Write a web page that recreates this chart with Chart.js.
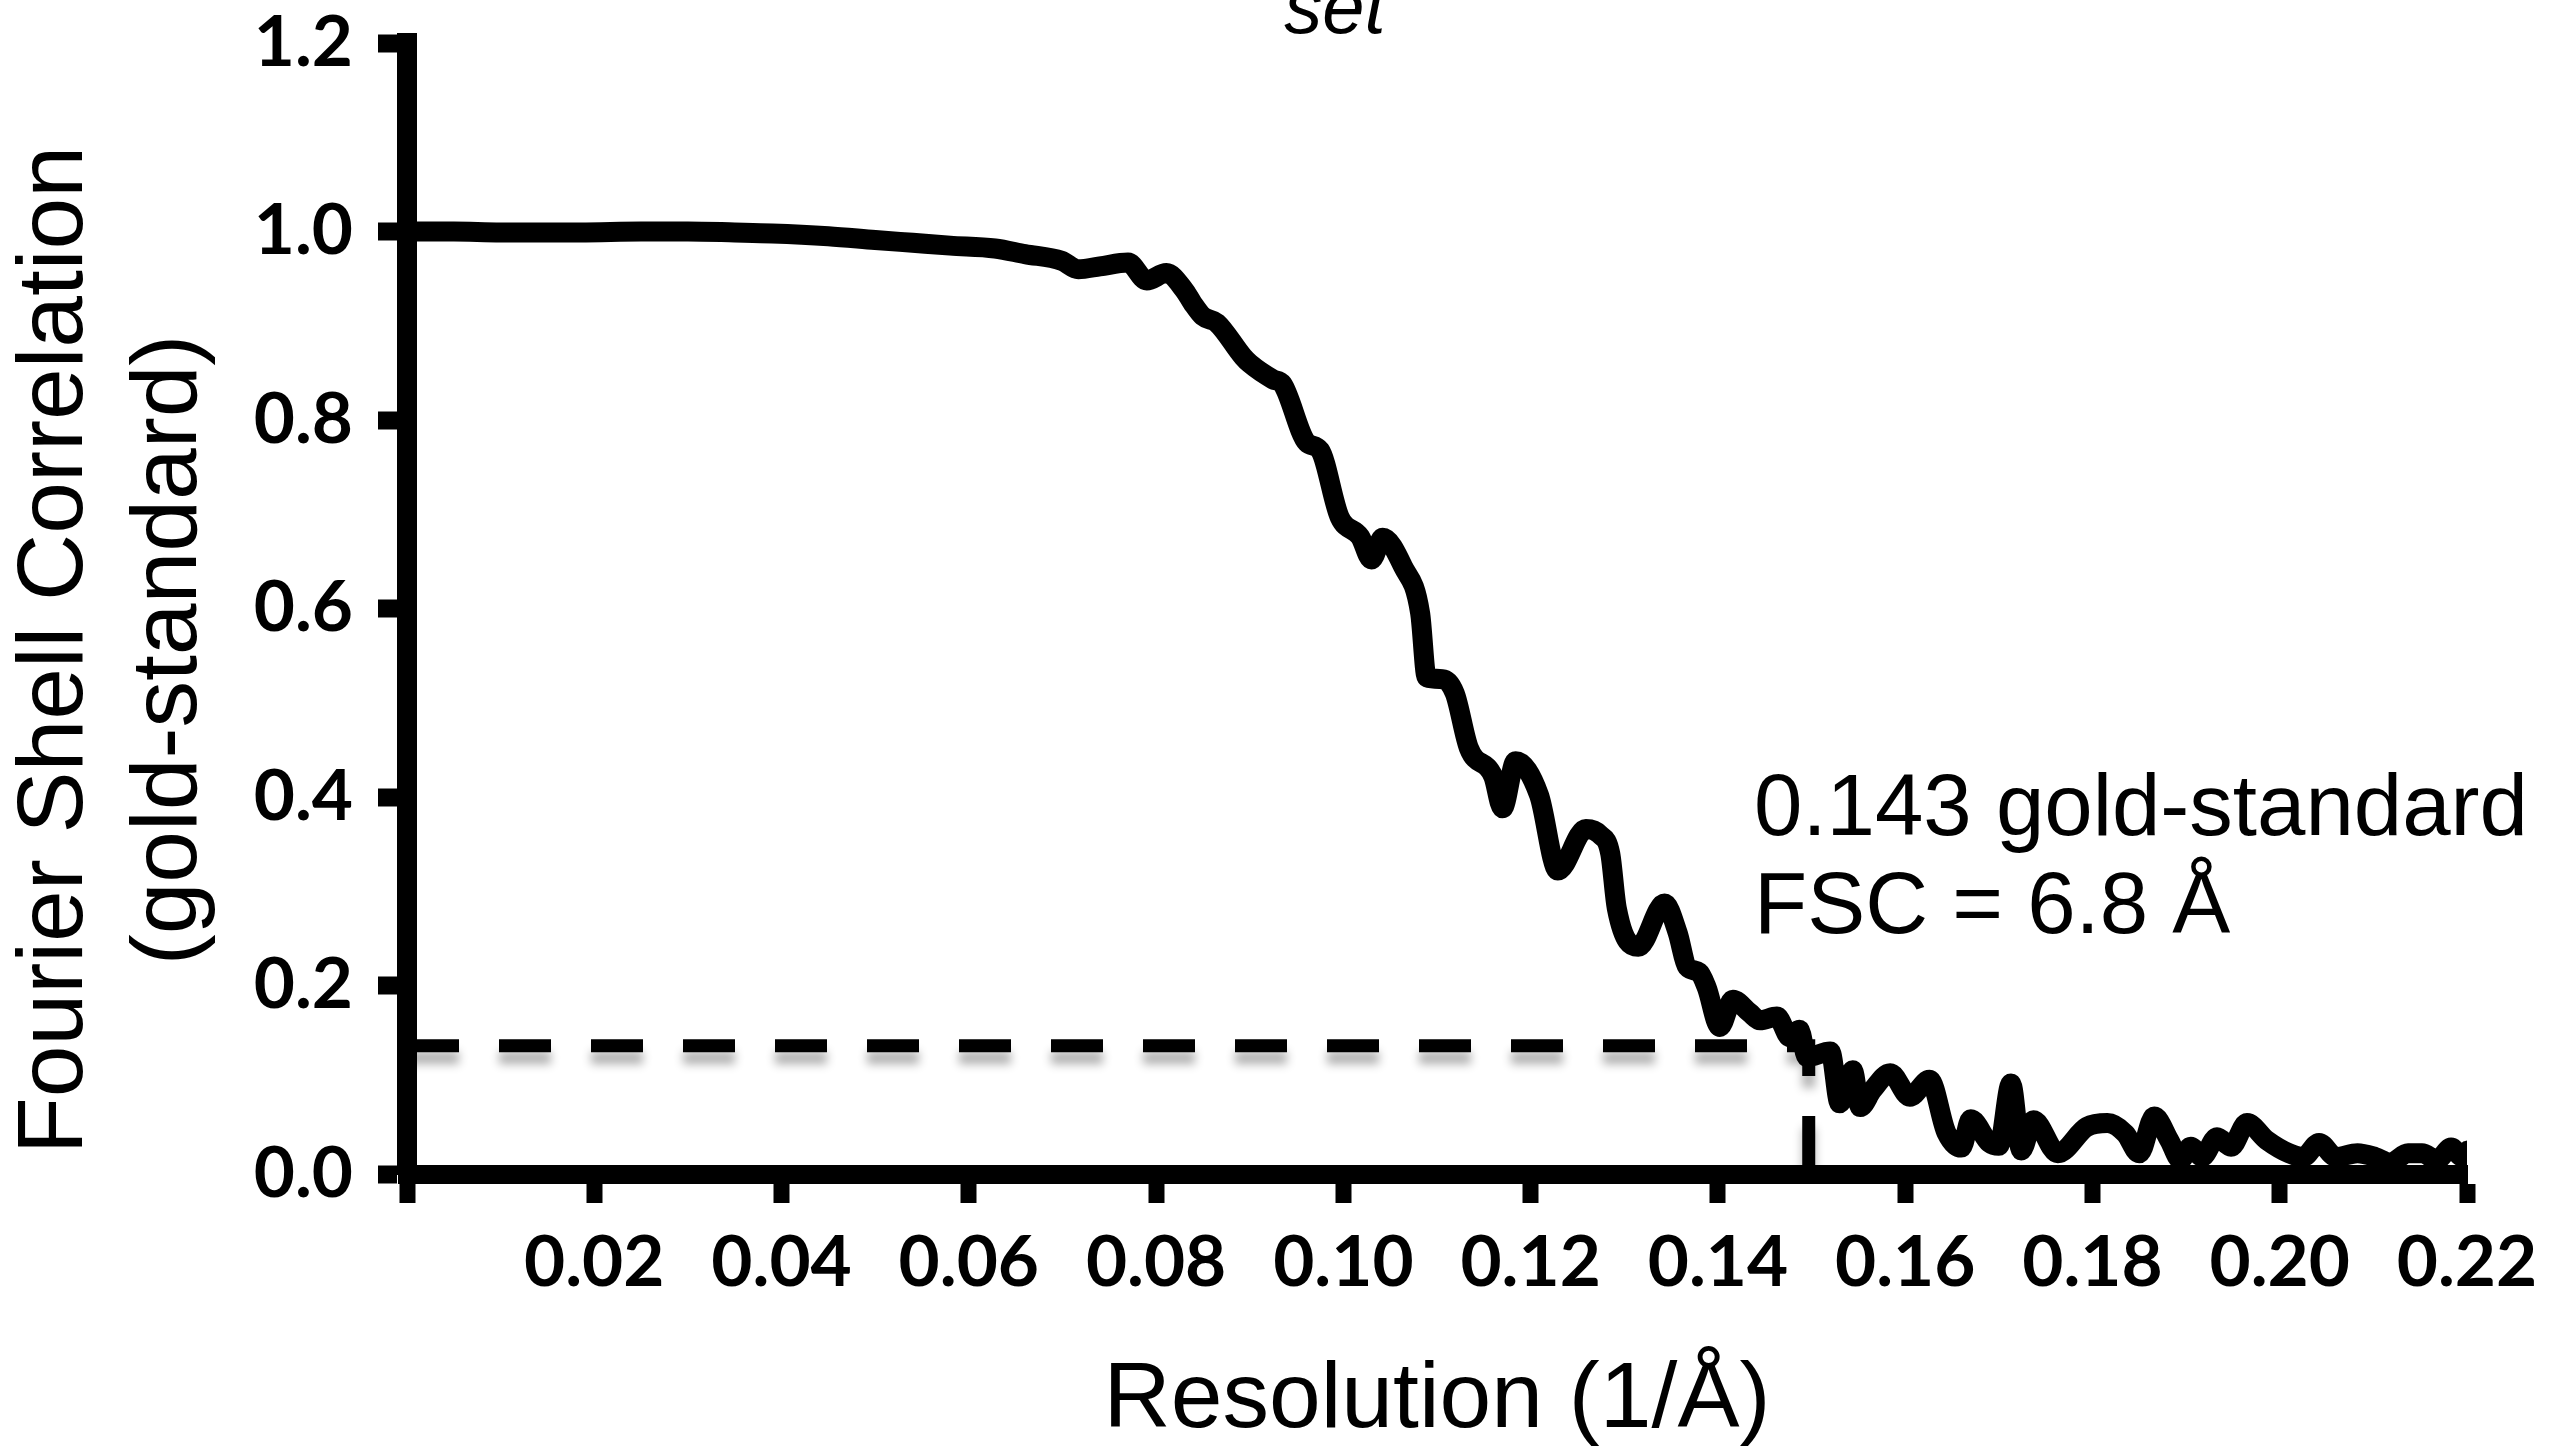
<!DOCTYPE html>
<html>
<head>
<meta charset="utf-8">
<script src="https://cdn.jsdelivr.net/npm/chart.js@4.4.1/dist/chart.umd.min.js"></script>
<style>
  html, body { margin: 0; padding: 0; background: #fff; }
  #wrap { width: 2566px; height: 1447px; position: relative; }
</style>
</head>
<body>
<div id="wrap"><canvas id="fscChart"></canvas></div>
<script>
// --- DATA ---
const resolution = [
  0, 0.005, 0.010, 0.015, 0.0185, 0.025, 0.030, 0.035, 0.039, 0.045,
  0.050, 0.054, 0.058, 0.0628, 0.066, 0.0699, 0.0717, 0.074, 0.077, 0.0790,
  0.0811, 0.083, 0.0839, 0.085, 0.0865, 0.0893, 0.090, 0.0925, 0.0935, 0.0961,
  0.0975, 0.0996, 0.1018, 0.1030, 0.1042, 0.1064, 0.1082, 0.1089, 0.1106, 0.1119,
  0.1134, 0.1160, 0.1170, 0.1184, 0.1209, 0.1229, 0.1259, 0.1274, 0.1285, 0.1292,
  0.1315, 0.1343, 0.1357, 0.1367, 0.1380, 0.1388, 0.1402, 0.1416, 0.1434, 0.1445,
  0.1463, 0.1477, 0.1487, 0.1495, 0.1520, 0.1530, 0.1544, 0.1552, 0.1565, 0.1584,
  0.1605, 0.1626, 0.1644, 0.1660, 0.1670, 0.1690, 0.1700, 0.1713, 0.1724, 0.1737,
  0.1763, 0.1794, 0.1816, 0.1835, 0.1850, 0.1866, 0.1882, 0.1894, 0.1905, 0.1917,
  0.1933, 0.1948, 0.1965, 0.1986, 0.2010, 0.2025, 0.2042, 0.2060, 0.2083, 0.2102,
  0.2118, 0.2137, 0.2152, 0.2168, 0.2183, 0.2195, 0.2201
];
const fsc = [
  1.000, 1.000, 0.999, 0.999, 0.999, 1.000, 1.000, 0.999, 0.998, 0.995,
  0.991, 0.988, 0.985, 0.982, 0.976, 0.969, 0.960, 0.963, 0.967, 0.948,
  0.956, 0.938, 0.924, 0.910, 0.903, 0.867, 0.860, 0.843, 0.838, 0.776,
  0.768, 0.697, 0.676, 0.652, 0.675, 0.644, 0.595, 0.527, 0.525, 0.510,
  0.452, 0.422, 0.388, 0.438, 0.402, 0.322, 0.366, 0.360, 0.340, 0.282,
  0.241, 0.287, 0.256, 0.220, 0.214, 0.198, 0.156, 0.185, 0.171, 0.163,
  0.167, 0.145, 0.153, 0.124, 0.130, 0.075, 0.110, 0.071, 0.089, 0.107,
  0.082, 0.100, 0.044, 0.028, 0.058, 0.033, 0.030, 0.096, 0.025, 0.057,
  0.022, 0.050, 0.054, 0.043, 0.022, 0.061, 0.036, 0.015, 0.029, 0.018,
  0.039, 0.029, 0.054, 0.036, 0.022, 0.018, 0.033, 0.018, 0.022, 0.018,
  0.012, 0.022, 0.022, 0.015, 0.028, 0.018, 0.025
];

// 0.143 criterion guide (horizontal to the curve, then down to the axis)
const thresholdRes = [0, 0.1497, 0.1497];
const thresholdFsc = [0.136, 0.136, 0];

// axis ranges / tick steps
const xRange = [0, 0.22];
const xStep = 0.02;
const yRange = [0, 1.2];
const yStep = 0.2;

const titleText = 'set';
const xTitle = 'Resolution (1/\u00C5)';
const yTitle = ['Fourier Shell Correlation', '(gold-standard)'];
const noteLines = ['0.143 gold-standard', 'FSC = 6.8 \u00C5'];

const curvePoints = resolution.map((r, i) => ({ x: r, y: fsc[i] }));
const guidePoints = thresholdRes.map((r, i) => ({ x: r, y: thresholdFsc[i] }));

// soft grey shadow under the dashed guide
const guideShadow = {
  id: 'guideShadow',
  beforeDatasetDraw(chart, args) {
    if (args.index !== 1) return;
    const ctx = chart.ctx;
    ctx.save();
    ctx.shadowColor = 'rgba(0,0,0,0.3)';
    ctx.shadowBlur = 10;
    ctx.shadowOffsetY = 12;
  },
  afterDatasetDraw(chart, args) {
    if (args.index !== 1) return;
    chart.ctx.restore();
  }
};

// free text: cut-off title, y title and the annotation
const textLayer = {
  id: 'textLayer',
  afterDraw(chart) {
    const ctx = chart.ctx;
    ctx.save();
    ctx.fillStyle = '#000';

    ctx.font = 'italic 76px "Liberation Sans"';
    ctx.textAlign = 'center';
    ctx.textBaseline = 'alphabetic';
    ctx.fillText(titleText, 1335, 33);

    ctx.font = '93px "Liberation Sans"';
    const yMid = 650;
    [82, 196].forEach((bx, i) => {
      ctx.save();
      ctx.translate(bx, yMid);
      ctx.rotate(-Math.PI / 2);
      ctx.fillText(yTitle[i], 0, 0);
      ctx.restore();
    });

    ctx.font = '87px "Liberation Sans"';
    ctx.textAlign = 'left';
    ctx.fillText(noteLines[0], 1754, 835);
    ctx.fillText(noteLines[1], 1754, 933);
    ctx.restore();
  }
};

new Chart(document.getElementById('fscChart'), {
  type: 'line',
  data: {
    datasets: [
      {
        data: curvePoints,
        borderColor: '#000',
        borderWidth: 20,
        pointRadius: 0,
        cubicInterpolationMode: 'monotone',
        borderJoinStyle: 'round',
        borderCapStyle: 'round',
        fill: false
      },
      {
        data: guidePoints,
        borderColor: '#000',
        borderWidth: 13,
        borderDash: [52, 40],
        pointRadius: 0,
        tension: 0,
        fill: false
      }
    ]
  },
  options: {
    responsive: true,
    maintainAspectRatio: false,
    animation: false,
    events: [],
    layout: { padding: { left: 0, top: 43, right: 99, bottom: 0 } },
    plugins: {
      legend: { display: false },
      tooltip: { enabled: false },
      title: { display: false }
    },
    scales: {
      x: {
        type: 'linear',
        min: xRange[0],
        max: xRange[1],
        afterFit(scale) { scale.height = 273; },
        border: { display: true, color: '#000', width: 19 },
        grid: {
          drawOnChartArea: false,
          drawTicks: true,
          tickLength: 29,
          tickWidth: 16,
          tickColor: '#000'
        },
        ticks: {
          stepSize: xStep,
          color: '#000',
          font: { family: 'Lato', weight: 'bold', size: 71 },
          padding: 18,
          maxRotation: 0,
          autoSkip: false,
          callback: (v) => (Math.abs(v) < 1e-9 ? '' : Number(v).toFixed(2))
        },
        title: {
          display: true,
          text: xTitle,
          color: '#000',
          font: { family: 'Liberation Sans', size: 93 },
          padding: { top: 0, bottom: -10 }
        }
      },
      y: {
        min: yRange[0],
        max: yRange[1],
        afterFit(scale) { scale.width = 407; },
        border: { display: true, color: '#000', width: 20 },
        grid: {
          drawOnChartArea: false,
          drawTicks: true,
          tickLength: 29,
          tickWidth: 18,
          tickColor: '#000'
        },
        ticks: {
          stepSize: yStep,
          color: '#000',
          font: { family: 'Lato', weight: 'bold', size: 71, lineHeight: 0.4 },
          padding: 25,
          callback: (v) => Number(v).toFixed(1)
        }
      }
    }
  },
  plugins: [guideShadow, textLayer]
});
</script>
</body>
</html>
